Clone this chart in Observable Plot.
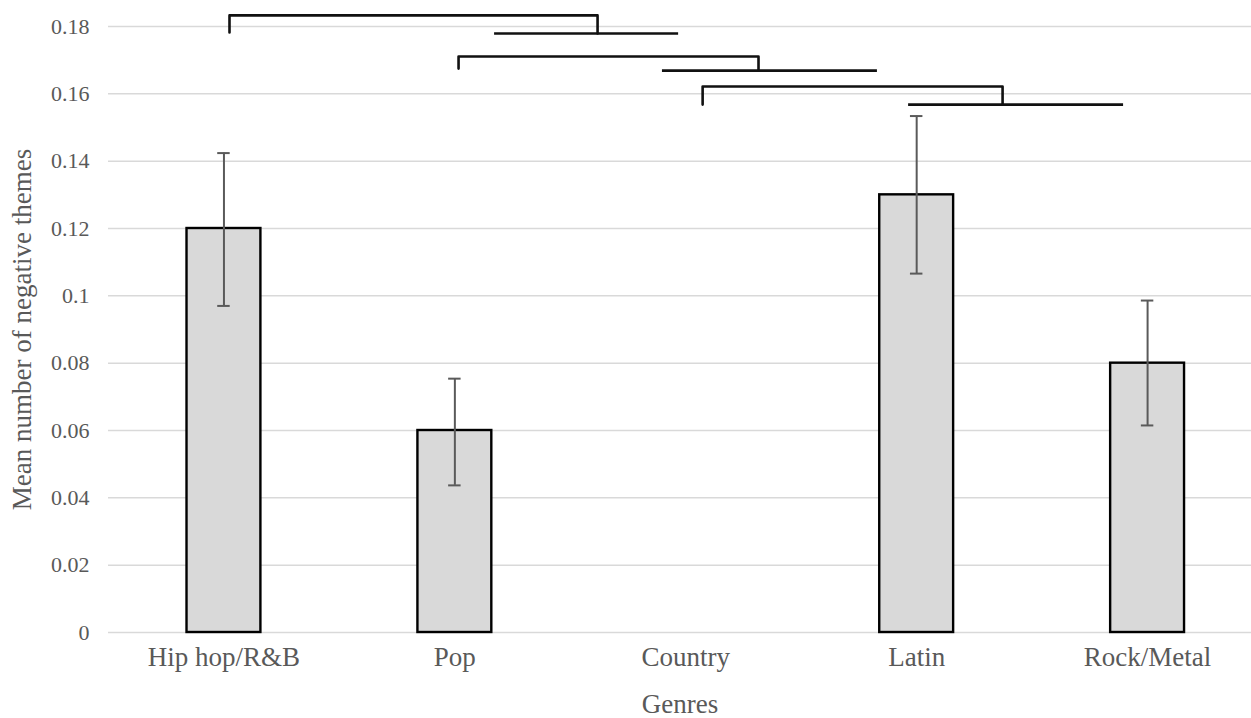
<!DOCTYPE html>
<html>
<head>
<meta charset="utf-8">
<script src="https://cdn.jsdelivr.net/npm/d3@7"></script>
<script src="https://cdn.jsdelivr.net/npm/@observablehq/plot@0.6"></script>
<style>
  html, body { margin: 0; padding: 0; background: #fff; }
  svg { display: block; }
</style>
</head>
<body>
<div id="chart"></div>
<script>
// ---- data ----
const genres = ["Hip hop/R&B", "Pop", "Country", "Latin", "Rock/Metal"];
const means = [0.12, 0.06, 0, 0.13, 0.08];
const errLow = [0.097, 0.0437, null, 0.1066, 0.0615];
const errHigh = [0.1424, 0.0754, null, 0.1534, 0.0986];
const yTicks = [0, 0.02, 0.04, 0.06, 0.08, 0.1, 0.12, 0.14, 0.16, 0.18];
const yTickLabels = ["0", "0.02", "0.04", "0.06", "0.08", "0.1", "0.12", "0.14", "0.16", "0.18"];

// significance brackets (x in category-index units)
const bracketLeft = [0.024, 1.016, 2.073];
const bracketRight = [1.618, 2.315, 3.372];
const bracketTop = [0.1833, 0.1711, 0.1622];
const bracketLeftBottom = [0.1782, 0.1675, 0.1568];
const bracketRightBottom = [0.1779, 0.1669, 0.1568];
const spanStart = [1.172, 1.899, 2.965];
const spanEnd = [1.969, 2.830, 3.896];
const spanY = [0.1779, 0.1669, 0.1568];

// ---- derived tables ----
const halfBar = 0.16;
const capHalf = 0.027;
const bars = genres.map((g, i) => ({i, g, v: means[i], lo: errLow[i], hi: errHigh[i]}));
const drawnBars = bars.filter(d => d.v > 0);
const errBars = bars.filter(d => d.lo != null);
const caps = errBars.flatMap(d => [{i: d.i, y: d.lo}, {i: d.i, y: d.hi}]);
const bracketPts = bracketLeft.flatMap((l, k) => [
  {k, x: l, y: bracketLeftBottom[k]},
  {k, x: l, y: bracketTop[k]},
  {k, x: bracketRight[k], y: bracketTop[k]},
  {k, x: bracketRight[k], y: bracketRightBottom[k]}
]);
const spans = spanStart.map((s, k) => ({x1: s, x2: spanEnd[k], y: spanY[k]}));
const tickLabelMap = new Map(yTicks.map((t, i) => [t, yTickLabels[i]]));

const font = "'Liberation Serif', 'Times New Roman', serif";
const textColor = "#595959";

const chart = Plot.plot({
  width: 1251,
  height: 718,
  marginLeft: 108,
  marginRight: 0,
  marginTop: 26,
  marginBottom: 86,
  style: {fontFamily: font, fontSize: "22px", color: textColor, background: "#fff"},
  x: {domain: [-0.5, 4.45], axis: null},
  y: {domain: [0, 0.18], axis: null},
  marks: [
    Plot.gridY(yTicks, {stroke: "#d9d9d9", strokeOpacity: 1, strokeWidth: 1.5}),
    Plot.axisY({ticks: yTicks, tickSize: 0, tickPadding: 19, tickFormat: d => tickLabelMap.get(d), fontSize: 22, fill: textColor, label: null}),
    Plot.axisX({ticks: genres.map((g, i) => i), tickSize: 0, tickPadding: 14, tickFormat: i => genres[i], fontSize: 27, fill: textColor, label: null}),
    Plot.rect(drawnBars, {x1: d => d.i - halfBar, x2: d => d.i + halfBar, y1: 0, y2: "v", fill: "#d9d9d9", stroke: "#000", strokeWidth: 2.4}),
    Plot.ruleX(errBars, {x: "i", y1: "lo", y2: "hi", stroke: "#5a5a5a", strokeWidth: 2}),
    Plot.ruleY(caps, {y: "y", x1: d => d.i - capHalf, x2: d => d.i + capHalf, stroke: "#5a5a5a", strokeWidth: 2}),
    Plot.line(bracketPts, {x: "x", y: "y", z: "k", stroke: "#111", strokeWidth: 2.6, strokeLinejoin: "round", curve: "linear"}),
    Plot.ruleY(spans, {y: "y", x1: "x1", x2: "x2", stroke: "#111", strokeWidth: 2.6}),
    Plot.text(["Genres"], {frameAnchor: "bottom", dy: 80, fontSize: 27, fill: textColor}),
    Plot.text(["Mean number of negative themes"], {frameAnchor: "left", textAnchor: "middle", dx: -86, rotate: -90, fontSize: 27, fill: textColor})
  ]
});
document.getElementById("chart").appendChild(chart);
</script>
</body>
</html>
